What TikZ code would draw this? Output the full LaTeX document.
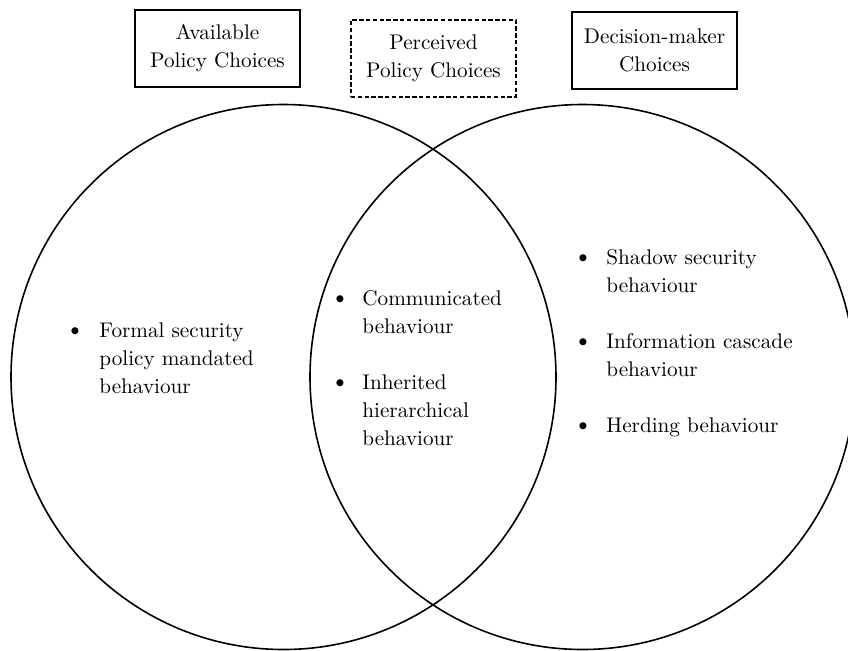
\documentclass[tikz,border=0pt]{standalone}
\usepackage{tikz,xcolor}
\usetikzlibrary{positioning}

\begin{document}
\begin{tikzpicture}[x=0.5pt,y=-0.5pt,every node/.style={font=\fontsize{10.6}{14}\selectfont},
	heading/.style={shape=rectangle,draw,line width=0.8pt,minimum width=82.5pt,minimum height=38.5pt,align=center,inner sep=2pt},
	item/.style={anchor=base west,align=left,inner sep=0pt},
	bul/.style={anchor=base,inner sep=0pt,font=\fontsize{13}{14}\selectfont},]
	\useasboundingbox (0,0) rectangle (848,650);
	% the two sets
	\draw[line width=0.8pt] (283.5,377) circle[radius=136.25pt];
	\draw[line width=0.8pt] (582.5,377) circle[radius=136.25pt];

	% the headings
	\node (avail)[heading] at (217.5,48.5) {Available\\Policy Choices};
	\node (perc)[heading, dash pattern=on 2.2pt off 1.2pt] at (433.5,58.5) {Perceived\\Policy Choices};
	\node (dmaker)[heading] at (654.5,50.5) {Decision-maker\\Choices};

	% left set only (placed at the baseline of the last line)
	\node (formal)[item] at (99,393) {Formal security\\policy mandated\\behaviour};
	% overlap of both sets
	\node (comm)[item] at (362,333) {Communicated\\behaviour};
	\node (inher)[item] at (362,445) {Inherited\\hierarchical\\behaviour};
	% right set only
	\node (shadow)[item] at (606,292) {Shadow security\\behaviour};
	\node (cascade)[item] at (606,376) {Information cascade\\behaviour};
	\node (herd)[item] at (606,432) {Herding behaviour};

	% the bullets, on the first line of each item
	\node (formalb)[bul] at ([xshift=-12pt,yshift=28pt]formal.base west) {\textbullet};
	\node (commb)[bul] at ([xshift=-11pt,yshift=14pt]comm.base west) {\textbullet};
	\node (inherb)[bul] at ([xshift=-11pt,yshift=28pt]inher.base west) {\textbullet};
	\node (shadowb)[bul] at ([xshift=-11.5pt,yshift=14pt]shadow.base west) {\textbullet};
	\node (cascadeb)[bul] at ([xshift=-11.5pt,yshift=14pt]cascade.base west) {\textbullet};
	\node (herdb)[bul] at ([xshift=-11.5pt]herd.base west) {\textbullet};

\end{tikzpicture}
\end{document}
